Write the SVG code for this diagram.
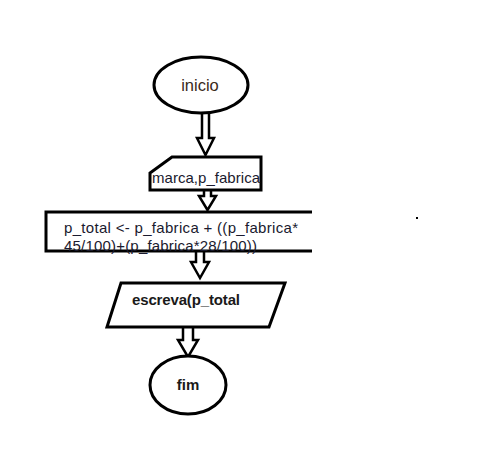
<svg xmlns="http://www.w3.org/2000/svg" width="488" height="466" viewBox="0 0 488 466">
  <style>
    .shape { fill: #fff; stroke: #000; stroke-width: 3; }
    .edge { fill: #fff; stroke: #000; stroke-width: 2.5; stroke-linejoin: miter; }
    .lbl { font-family: "Liberation Sans", Arial, sans-serif; font-size: 15px; fill: #1a1a2e; }
    .bold { font-weight: bold; fill: #1a1a1a; }
  </style>
  <rect width="488" height="466" fill="#fff"/>

  <!-- hollow block arrows between steps -->
  <g id="connectors">
    <path class="edge" d="M202,113 V138 H197 L205.5,155 L214,138 H209 V113"/>
    <path class="edge" d="M204,190 V196 H199 L207.5,210 L216,196 H211 V190"/>
    <path class="edge" d="M196,252 V262 H191 L200,278 L209,262 H204 V252"/>
    <path class="edge" d="M183,327 V340 H178 L188,357 L198,340 H193 V327"/>
  </g>

  <g id="inicio">
    <ellipse class="shape" cx="201" cy="85" rx="47" ry="28"/>
    <text class="lbl" x="200" y="91" text-anchor="middle" style="font-size:16.5px;fill:#3a2a1a">inicio</text>
  </g>

  <g id="entrada">
    <path class="shape" d="M172,157 H261 V190 H150 V173 Z"/>
    <text class="lbl" x="152" y="183" textLength="108">marca,p_fabrica</text>
  </g>

  <g id="calculo">
    <path class="shape" d="M312,212 H46 V251 H312"/>
    <text class="lbl" x="64" y="233" textLength="234">p_total &lt;- p_fabrica + ((p_fabrica*</text>
    <text class="lbl" x="64" y="251" textLength="193">45/100)+(p_fabrica*28/100))</text>
  </g>

  <g id="saida">
    <path class="shape" d="M121,283 H285 L269,327 H107 Z"/>
    <text class="lbl bold" x="132" y="305" textLength="108">escreva(p_total</text>
  </g>

  <g id="fim">
    <ellipse class="shape" cx="188" cy="385" rx="38" ry="29"/>
    <text class="lbl bold" x="188" y="390" text-anchor="middle">fim</text>
  </g>

  <rect x="416" y="217" width="2" height="2" fill="#000"/>
</svg>
